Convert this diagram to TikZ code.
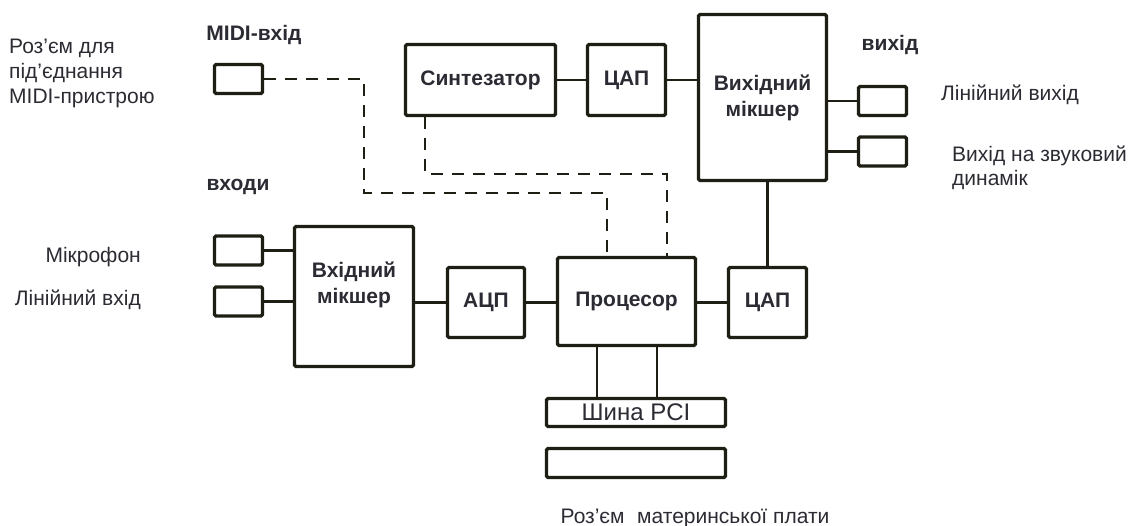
\documentclass[tikz,border=0pt]{standalone}
\usepackage{fontspec}
\setmainfont{Liberation Sans}
\usetikzlibrary{positioning}
\definecolor{linecol}{HTML}{1E1E14}
\definecolor{textcol}{HTML}{2B2B33}

\begin{document}
\begin{tikzpicture}[x=1pt,y=-1pt,
   block/.style={draw=linecol,line width=3.3pt,rounded corners=1.5pt,inner sep=0pt,
      fill=white,text=textcol,align=center,font=\fontsize{21}{26}\selectfont\bfseries},
   jack/.style={block,minimum width=48pt,minimum height=29pt},
   wire/.style={draw=linecol,line width=2.4pt},
   dashwire/.style={wire,dash pattern=on 12pt off 9pt},
   txt/.style={text=textcol,align=left,inner sep=0pt,font=\fontsize{21}{25}\selectfont},
   head/.style={text=textcol,inner sep=0pt,font=\fontsize{21}{25}\selectfont\bfseries}]
\useasboundingbox (0,0) rectangle (1130,526);

\node[block,minimum width=150pt,minimum height=71pt] (synth) at (480.5,80) {Синтезатор};
\node[block,minimum width=78pt,minimum height=71pt] (dac1) at (626.5,80) {ЦАП};
\node[block,minimum width=128pt,minimum height=166pt] (outmix) at (762.5,97.5) {Вихідний\\мікшер};
\node[block,minimum width=138pt,minimum height=88pt] (proc) at (626.5,301.5) {Процесор};
\node[block,minimum width=77pt,minimum height=70pt] (adc) at (486,302.5) {АЦП};
\node[block,minimum width=78pt,minimum height=70pt] (dac2) at (767.5,302.5) {ЦАП};
\node[block,minimum width=119pt,minimum height=140pt] (inmix) at (354,296.5) {};
\node[block,draw=none,fill=none] (inmixtext) at (354,285) {Вхідний\\мікшер};
\node[jack] (midi) at (238.5,79) {};
\node[jack] (mic) at (238.5,250.5) {};
\node[jack] (linein) at (238.5,301.5) {};
\node[jack] (lineout) at (882.5,101) {};
\node[jack] (spk) at (882.5,151.5) {};
\node[block,minimum width=179pt,minimum height=28pt,font=\fontsize{24}{28}\selectfont] (bus) at (636,412.5) {Шина PCI};
\node[block,minimum width=179pt,minimum height=29pt] (slot) at (636,463) {};

\node[head] (midihead) at (254,35) {MIDI-вхід};
\node[head] (outhead) at (890,45) {вихід};
\node[head] (inhead) at (238,187) {входи};
\node[txt,anchor=west] (midinote) at (9,73) {Роз’єм для\\під’єднання\\MIDI-пристрою};
\node[txt,anchor=east] (micnote) at (141,257) {Мікрофон};
\node[txt,anchor=east] (linenote) at (141,300) {Лінійний вхід};
\node[txt,anchor=west] (outnote) at (941,95) {Лінійний вихід};
\node[txt,anchor=west,font=\fontsize{21}{24}\selectfont] (spknote) at (952,168) {Вихід на звуковий\\динамік};
\node[txt] (slotnote) at (695,518) {Роз’єм\hspace{0.6em}материнської плати};

\coordinate (miditurn) at (364,193);
\coordinate (procin1) at (607,193);
\coordinate (synthout) at (425,174);
\coordinate (procin2) at (667,174);
\coordinate (busl) at (597,400);
\coordinate (busr) at (657,400);

\draw[wire] (synth) -- (dac1);
\draw[wire] (dac1.east) -- (dac1.east -| outmix.west);
\draw[wire] (outmix.east |- lineout) -- (lineout);
\draw[wire] (outmix.east |- spk) -- (spk);
\draw[wire] (dac2.north) -- (dac2.north |- outmix.south);
\draw[wire] (mic.east) -- (mic.east -| inmix.west);
\draw[wire] (linein.east) -- (linein.east -| inmix.west);
\draw[wire] (adc.west -| inmix.east) -- (adc.west);
\draw[wire] (adc.east) -- (adc.east -| proc.west);
\draw[wire] (proc.east |- dac2.west) -- (dac2.west);
\draw[wire] (busl |- proc.south) -- (busl |- bus.north);
\draw[wire] (busr |- proc.south) -- (busr |- bus.north);
\draw[dashwire] (midi.east) -| (miditurn) -- (procin1) -- (procin1 |- proc.north);
\draw[dashwire] (synthout |- synth.south) -- (synthout) -- (procin2) -- (procin2 |- proc.north);
\end{tikzpicture}
\end{document}
